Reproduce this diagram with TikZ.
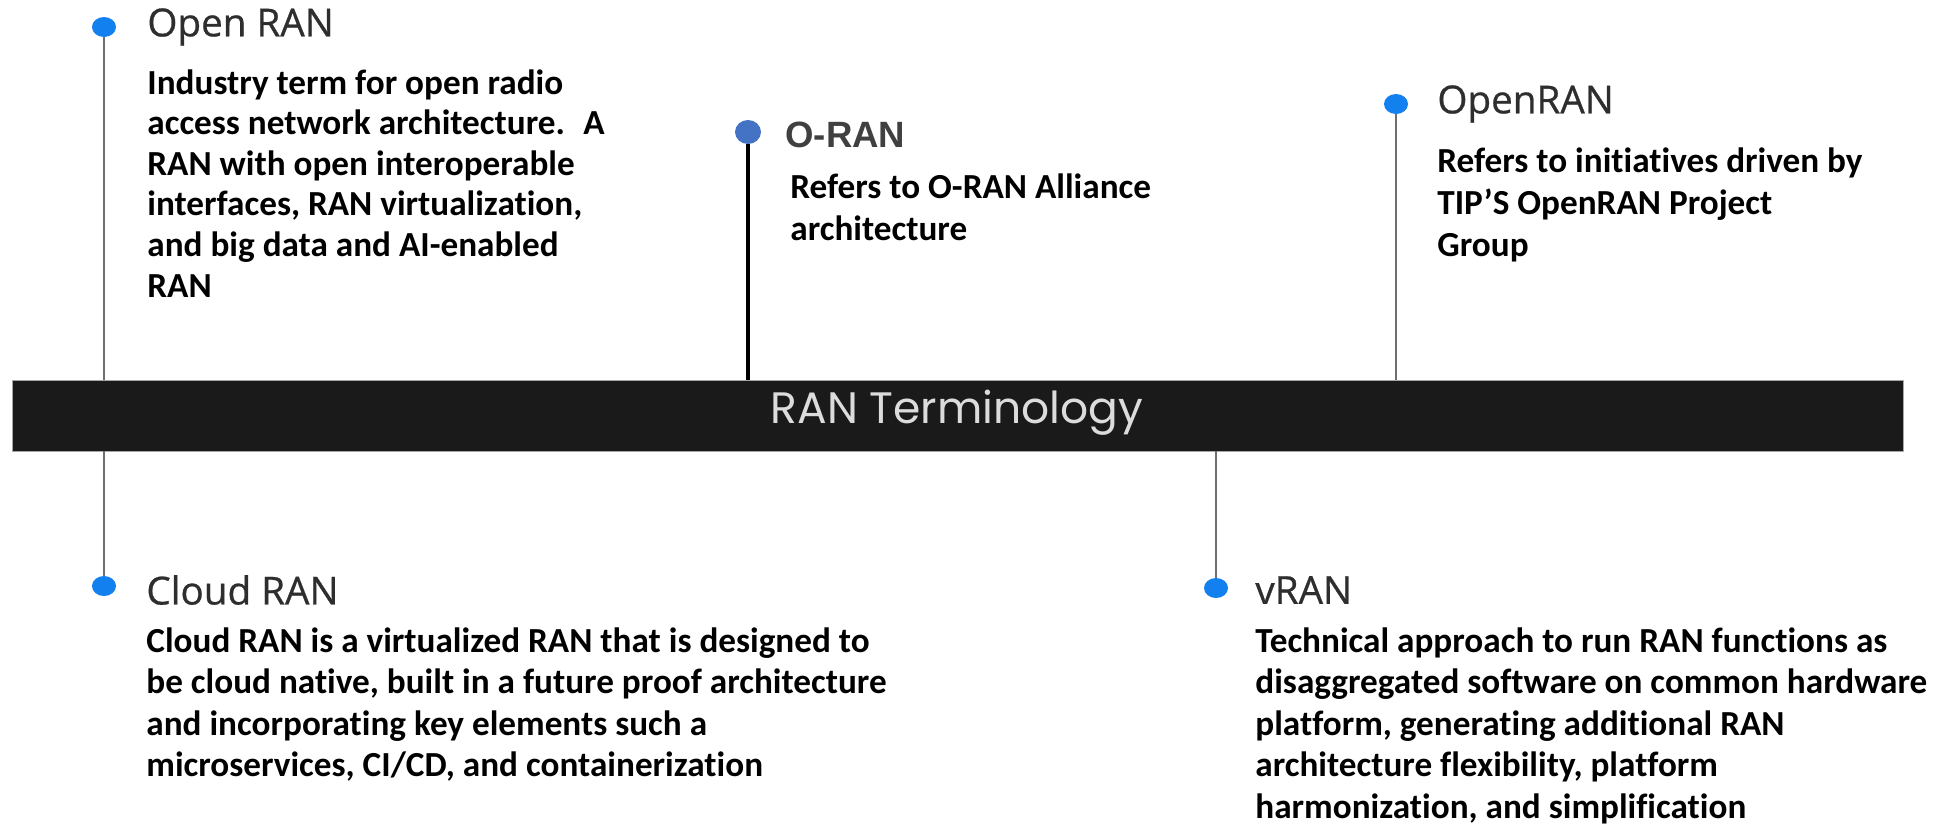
\documentclass[tikz,border=0pt]{standalone}
\usepackage{fontspec}
\setmainfont{Carlito}[Ligatures=NoCommon]
\newfontfamily\titlefont{Open Sans}[FakeBold=0.7]
\newfontfamily\arialfont{Liberation Sans}
\newfontfamily\barfont{Poppins}
\usetikzlibrary{shapes.geometric}
\definecolor{dotblue}{HTML}{1380F0}
\definecolor{oranblue}{HTML}{4472C4}
\definecolor{stemgray}{HTML}{6E6E6E}
\definecolor{barblack}{HTML}{1A1A1A}
\definecolor{titlegray}{HTML}{2E2E2E}
\definecolor{orangray}{HTML}{404040}
\definecolor{bartext}{HTML}{DCDCDC}
\begin{document}
\begin{tikzpicture}[x=0.5pt,y=-0.5pt,
  dot/.style={ellipse, fill=dotblue, inner sep=0pt, minimum width=12pt, minimum height=10pt},
  stem/.style={draw=stemgray, line width=1.2pt},
  title/.style={anchor=west, inner sep=0pt, font=\titlefont\fontsize{19.3pt}{23pt}\selectfont, text=titlegray},
  body/.style={anchor=base west, inner sep=0pt, align=left, font=\bfseries\fontsize{17.6pt}{#1}\selectfont},
  body/.default=20.5pt
]
\useasboundingbox (0,0) rectangle (1943,825);
% central bar
\node[fill=barblack, draw=gray!70, line width=0.4pt, minimum width=945.5pt, minimum height=35.5pt, inner sep=0pt] (bar) at (957.5,415.5) {};
\node[text=bartext, font=\barfont\fontsize{22pt}{27pt}\selectfont, inner sep=0pt] (bartitle) at (957,413) {RAN Terminology};

% dots
\node[dot] (dOpen) at (104,27) {};
\node[ellipse, fill=oranblue, inner sep=0pt, minimum width=13pt, minimum height=12pt] (dORAN) at (748,132) {};
\node[dot] (dOpenRAN) at (1396,104) {};
\node[dot] (dCloud) at (104,586) {};
\node[dot] (dV) at (1216,588) {};

% stems
\draw[stem] (dOpen) -- (dOpen |- bar.north);
\draw[stem] (bar.south -| dCloud) -- (dCloud);
\draw[black, line width=1.8pt] (dORAN) -- (dORAN |- bar.north);
\draw[stem, line width=1pt] (dOpenRAN) -- (dOpenRAN |- bar.north);
\draw[stem] (bar.south -| dV) -- (dV);

% titles
\node[title] (tOpen) at (147,27) {Open RAN};
\node[anchor=west, inner sep=0pt, font=\arialfont\bfseries\fontsize{18.3pt}{22pt}\selectfont, text=orangray] (tORAN) at (785,135) {O-RAN};
\node[title] (tOpenRAN) at (1437,104) {OpenRAN};
\node[title] (tCloud) at (146,590) {Cloud RAN};
\node[title] (tV) at (1255,590) {vRAN};

% bodies (anchored at the baseline of the last line)
\node[body=20.3pt] (bOpen) at (147,297) {Industry term for open radio\\access network architecture.~ A\\RAN with open interoperable\\interfaces, RAN virtualization,\\and big data and AI-enabled\\RAN};
\node[body=21pt] (bORAN) at (790,240) {Refers to O-RAN Alliance\\architecture};
\node[body=21pt] (bOpenRAN) at (1437,256) {Refers to initiatives driven by\\TIP’S OpenRAN Project\\Group};
\node[body=20.75pt] (bCloud) at (146,776.5) {Cloud RAN is a virtualized RAN that is designed to\\be cloud native, built in a future proof architecture\\and incorporating key elements such a\\microservices, CI/CD, and containerization};
\node[body=20.75pt] (bV) at (1255,818) {Technical approach to run RAN functions as\\disaggregated software on common hardware\\platform, generating additional RAN\\architecture flexibility, platform\\harmonization, and simplification};
\end{tikzpicture}
\end{document}
